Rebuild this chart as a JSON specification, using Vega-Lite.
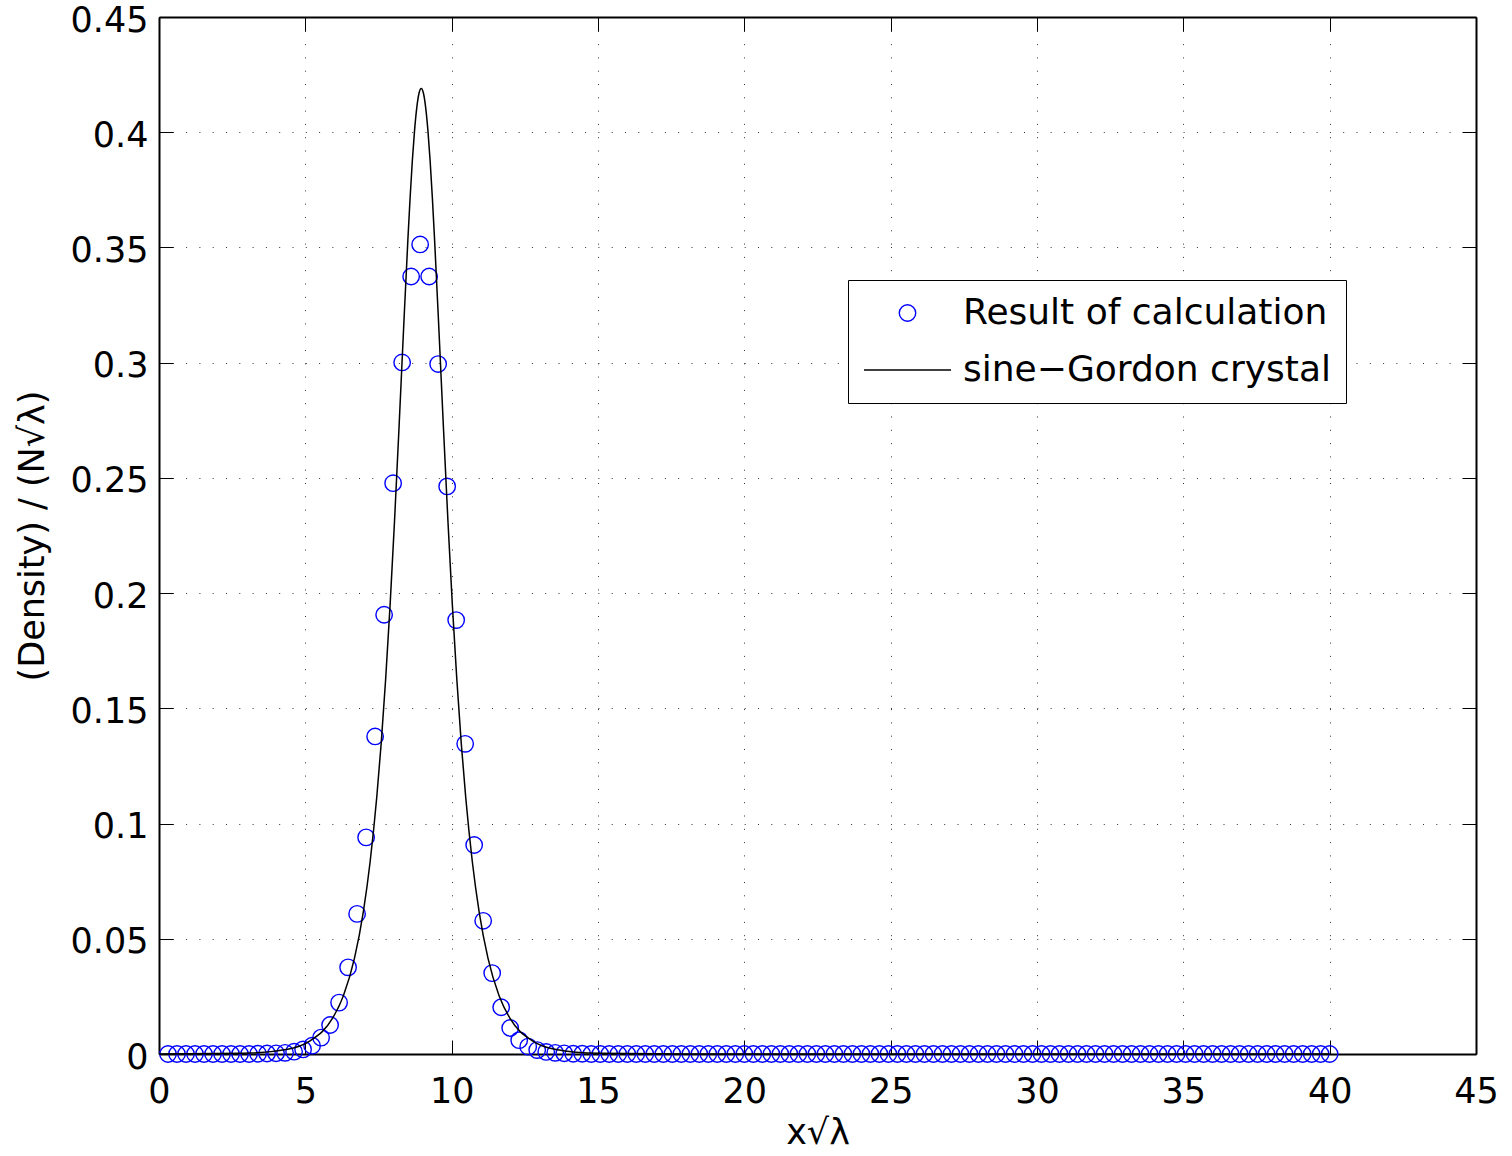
{
  "$schema": "https://vega.github.io/schema/vega-lite/v6.json",
  "width": 1317,
  "height": 1037,
  "autosize": {"type": "none"},
  "padding": {"left": 159, "top": 17, "right": 36, "bottom": 102},
  "background": "white",
  "config": {
    "view": {"stroke": null},
    "font": "DejaVu Sans",
    "axis": {
      "labelFont": "DejaVu Sans",
      "labelFontSize": 35,
      "labelColor": "black",
      "labelFlush": false,
      "labelOverlap": false,
      "labelBound": false,
      "titleFont": "DejaVu Sans",
      "titleFontSize": 35,
      "titleFontWeight": "normal",
      "titleColor": "black",
      "domainColor": "black",
      "domainWidth": 2,
      "tickColor": "black",
      "tickWidth": 1,
      "tickSize": -14,
      "gridColor": "#333333",
      "gridWidth": 1,
      "gridDash": [1, 12.3]
    }
  },
  "datasets": {
    "calc": [
      {"x": 0.3077, "y": 0, "series": "Result of calculation"},
      {"x": 0.6154, "y": 0, "series": "Result of calculation"},
      {"x": 0.9231, "y": 0, "series": "Result of calculation"},
      {"x": 1.2308, "y": 0, "series": "Result of calculation"},
      {"x": 1.5385, "y": 0, "series": "Result of calculation"},
      {"x": 1.8462, "y": 0, "series": "Result of calculation"},
      {"x": 2.1538, "y": 0, "series": "Result of calculation"},
      {"x": 2.4615, "y": 0, "series": "Result of calculation"},
      {"x": 2.7692, "y": 0, "series": "Result of calculation"},
      {"x": 3.0769, "y": 0, "series": "Result of calculation"},
      {"x": 3.3846, "y": 0.0001, "series": "Result of calculation"},
      {"x": 3.6923, "y": 0.0002, "series": "Result of calculation"},
      {"x": 4.0, "y": 0.0003, "series": "Result of calculation"},
      {"x": 4.3077, "y": 0.0005, "series": "Result of calculation"},
      {"x": 4.6154, "y": 0.001, "series": "Result of calculation"},
      {"x": 4.9231, "y": 0.002, "series": "Result of calculation"},
      {"x": 5.2308, "y": 0.0036, "series": "Result of calculation"},
      {"x": 5.5385, "y": 0.0071, "series": "Result of calculation"},
      {"x": 5.8462, "y": 0.0126, "series": "Result of calculation"},
      {"x": 6.1538, "y": 0.0223, "series": "Result of calculation"},
      {"x": 6.4615, "y": 0.0376, "series": "Result of calculation"},
      {"x": 6.7692, "y": 0.0608, "series": "Result of calculation"},
      {"x": 7.0769, "y": 0.094, "series": "Result of calculation"},
      {"x": 7.3846, "y": 0.1378, "series": "Result of calculation"},
      {"x": 7.6923, "y": 0.1906, "series": "Result of calculation"},
      {"x": 8.0, "y": 0.2477, "series": "Result of calculation"},
      {"x": 8.3077, "y": 0.3001, "series": "Result of calculation"},
      {"x": 8.6154, "y": 0.3374, "series": "Result of calculation"},
      {"x": 8.9231, "y": 0.3513, "series": "Result of calculation"},
      {"x": 9.2308, "y": 0.3374, "series": "Result of calculation"},
      {"x": 9.5385, "y": 0.2994, "series": "Result of calculation"},
      {"x": 9.8462, "y": 0.2463, "series": "Result of calculation"},
      {"x": 10.1538, "y": 0.1883, "series": "Result of calculation"},
      {"x": 10.4615, "y": 0.1346, "series": "Result of calculation"},
      {"x": 10.7692, "y": 0.0907, "series": "Result of calculation"},
      {"x": 11.0769, "y": 0.0578, "series": "Result of calculation"},
      {"x": 11.3846, "y": 0.0351, "series": "Result of calculation"},
      {"x": 11.6923, "y": 0.0203, "series": "Result of calculation"},
      {"x": 12.0, "y": 0.0113, "series": "Result of calculation"},
      {"x": 12.3077, "y": 0.006, "series": "Result of calculation"},
      {"x": 12.6154, "y": 0.0032, "series": "Result of calculation"},
      {"x": 12.9231, "y": 0.0017, "series": "Result of calculation"},
      {"x": 13.2308, "y": 0.0009, "series": "Result of calculation"},
      {"x": 13.5385, "y": 0.0005, "series": "Result of calculation"},
      {"x": 13.8462, "y": 0.0003, "series": "Result of calculation"},
      {"x": 14.1538, "y": 0.0001, "series": "Result of calculation"},
      {"x": 14.4615, "y": 0.0001, "series": "Result of calculation"},
      {"x": 14.7692, "y": 0, "series": "Result of calculation"},
      {"x": 15.0769, "y": 0, "series": "Result of calculation"},
      {"x": 15.3846, "y": 0, "series": "Result of calculation"},
      {"x": 15.6923, "y": 0, "series": "Result of calculation"},
      {"x": 16.0, "y": 0, "series": "Result of calculation"},
      {"x": 16.3077, "y": 0, "series": "Result of calculation"},
      {"x": 16.6154, "y": 0, "series": "Result of calculation"},
      {"x": 16.9231, "y": 0, "series": "Result of calculation"},
      {"x": 17.2308, "y": 0, "series": "Result of calculation"},
      {"x": 17.5385, "y": 0, "series": "Result of calculation"},
      {"x": 17.8462, "y": 0, "series": "Result of calculation"},
      {"x": 18.1538, "y": 0, "series": "Result of calculation"},
      {"x": 18.4615, "y": 0, "series": "Result of calculation"},
      {"x": 18.7692, "y": 0, "series": "Result of calculation"},
      {"x": 19.0769, "y": 0, "series": "Result of calculation"},
      {"x": 19.3846, "y": 0, "series": "Result of calculation"},
      {"x": 19.6923, "y": 0, "series": "Result of calculation"},
      {"x": 20.0, "y": 0, "series": "Result of calculation"},
      {"x": 20.3077, "y": 0, "series": "Result of calculation"},
      {"x": 20.6154, "y": 0, "series": "Result of calculation"},
      {"x": 20.9231, "y": 0, "series": "Result of calculation"},
      {"x": 21.2308, "y": 0, "series": "Result of calculation"},
      {"x": 21.5385, "y": 0, "series": "Result of calculation"},
      {"x": 21.8462, "y": 0, "series": "Result of calculation"},
      {"x": 22.1538, "y": 0, "series": "Result of calculation"},
      {"x": 22.4615, "y": 0, "series": "Result of calculation"},
      {"x": 22.7692, "y": 0, "series": "Result of calculation"},
      {"x": 23.0769, "y": 0, "series": "Result of calculation"},
      {"x": 23.3846, "y": 0, "series": "Result of calculation"},
      {"x": 23.6923, "y": 0, "series": "Result of calculation"},
      {"x": 24.0, "y": 0, "series": "Result of calculation"},
      {"x": 24.3077, "y": 0, "series": "Result of calculation"},
      {"x": 24.6154, "y": 0, "series": "Result of calculation"},
      {"x": 24.9231, "y": 0, "series": "Result of calculation"},
      {"x": 25.2308, "y": 0, "series": "Result of calculation"},
      {"x": 25.5385, "y": 0, "series": "Result of calculation"},
      {"x": 25.8462, "y": 0, "series": "Result of calculation"},
      {"x": 26.1538, "y": 0, "series": "Result of calculation"},
      {"x": 26.4615, "y": 0, "series": "Result of calculation"},
      {"x": 26.7692, "y": 0, "series": "Result of calculation"},
      {"x": 27.0769, "y": 0, "series": "Result of calculation"},
      {"x": 27.3846, "y": 0, "series": "Result of calculation"},
      {"x": 27.6923, "y": 0, "series": "Result of calculation"},
      {"x": 28.0, "y": 0, "series": "Result of calculation"},
      {"x": 28.3077, "y": 0, "series": "Result of calculation"},
      {"x": 28.6154, "y": 0, "series": "Result of calculation"},
      {"x": 28.9231, "y": 0, "series": "Result of calculation"},
      {"x": 29.2308, "y": 0, "series": "Result of calculation"},
      {"x": 29.5385, "y": 0, "series": "Result of calculation"},
      {"x": 29.8462, "y": 0, "series": "Result of calculation"},
      {"x": 30.1538, "y": 0, "series": "Result of calculation"},
      {"x": 30.4615, "y": 0, "series": "Result of calculation"},
      {"x": 30.7692, "y": 0, "series": "Result of calculation"},
      {"x": 31.0769, "y": 0, "series": "Result of calculation"},
      {"x": 31.3846, "y": 0, "series": "Result of calculation"},
      {"x": 31.6923, "y": 0, "series": "Result of calculation"},
      {"x": 32.0, "y": 0, "series": "Result of calculation"},
      {"x": 32.3077, "y": 0, "series": "Result of calculation"},
      {"x": 32.6154, "y": 0, "series": "Result of calculation"},
      {"x": 32.9231, "y": 0, "series": "Result of calculation"},
      {"x": 33.2308, "y": 0, "series": "Result of calculation"},
      {"x": 33.5385, "y": 0, "series": "Result of calculation"},
      {"x": 33.8462, "y": 0, "series": "Result of calculation"},
      {"x": 34.1538, "y": 0, "series": "Result of calculation"},
      {"x": 34.4615, "y": 0, "series": "Result of calculation"},
      {"x": 34.7692, "y": 0, "series": "Result of calculation"},
      {"x": 35.0769, "y": 0, "series": "Result of calculation"},
      {"x": 35.3846, "y": 0, "series": "Result of calculation"},
      {"x": 35.6923, "y": 0, "series": "Result of calculation"},
      {"x": 36.0, "y": 0, "series": "Result of calculation"},
      {"x": 36.3077, "y": 0, "series": "Result of calculation"},
      {"x": 36.6154, "y": 0, "series": "Result of calculation"},
      {"x": 36.9231, "y": 0, "series": "Result of calculation"},
      {"x": 37.2308, "y": 0, "series": "Result of calculation"},
      {"x": 37.5385, "y": 0, "series": "Result of calculation"},
      {"x": 37.8462, "y": 0, "series": "Result of calculation"},
      {"x": 38.1538, "y": 0, "series": "Result of calculation"},
      {"x": 38.4615, "y": 0, "series": "Result of calculation"},
      {"x": 38.7692, "y": 0, "series": "Result of calculation"},
      {"x": 39.0769, "y": 0, "series": "Result of calculation"},
      {"x": 39.3846, "y": 0, "series": "Result of calculation"},
      {"x": 39.6923, "y": 0, "series": "Result of calculation"},
      {"x": 40.0, "y": 0, "series": "Result of calculation"}
    ],
    "crystal": [
      {"x": 0, "y": 0},
      {"x": 2.88, "y": 0.0003},
      {"x": 4.4, "y": 0.0021},
      {"x": 5.16, "y": 0.0057},
      {"x": 5.92, "y": 0.0153},
      {"x": 6.3, "y": 0.0253},
      {"x": 6.68, "y": 0.0416},
      {"x": 6.984, "y": 0.0619},
      {"x": 7.212, "y": 0.0832},
      {"x": 7.44, "y": 0.1114},
      {"x": 7.592, "y": 0.1348},
      {"x": 7.744, "y": 0.1626},
      {"x": 7.896, "y": 0.1948},
      {"x": 8.048, "y": 0.2314},
      {"x": 8.2, "y": 0.2715},
      {"x": 8.352, "y": 0.3133},
      {"x": 8.504, "y": 0.3534},
      {"x": 8.58, "y": 0.3716},
      {"x": 8.656, "y": 0.3876},
      {"x": 8.732, "y": 0.4008},
      {"x": 8.808, "y": 0.4107},
      {"x": 8.884, "y": 0.4169},
      {"x": 8.96, "y": 0.419},
      {"x": 9.036, "y": 0.4169},
      {"x": 9.112, "y": 0.4107},
      {"x": 9.188, "y": 0.4008},
      {"x": 9.264, "y": 0.3876},
      {"x": 9.34, "y": 0.3716},
      {"x": 9.416, "y": 0.3534},
      {"x": 9.568, "y": 0.3133},
      {"x": 9.72, "y": 0.2715},
      {"x": 9.872, "y": 0.2314},
      {"x": 10.024, "y": 0.1948},
      {"x": 10.176, "y": 0.1626},
      {"x": 10.328, "y": 0.1348},
      {"x": 10.48, "y": 0.1114},
      {"x": 10.708, "y": 0.0832},
      {"x": 10.936, "y": 0.0619},
      {"x": 11.24, "y": 0.0416},
      {"x": 11.62, "y": 0.0253},
      {"x": 12.0, "y": 0.0153},
      {"x": 12.76, "y": 0.0057},
      {"x": 13.52, "y": 0.0021},
      {"x": 15.04, "y": 0.0003},
      {"x": 18, "y": 0},
      {"x": 40, "y": 0}
    ]
  },
  "layer": [
    {
      "data": {"name": "calc"},
      "mark": {"type": "point", "filled": false, "strokeWidth": 1.4, "opacity": 1},
      "encoding": {
        "x": {
          "field": "x",
          "type": "quantitative",
          "scale": {"domain": [0, 45], "nice": false, "zero": false},
          "axis": {
            "orient": "bottom",
            "values": [0, 5, 10, 15, 20, 25, 30, 35, 40, 45],
            "format": "~g",
            "grid": true,
            "labelPadding": 34,
            "title": "x√λ",
            "titlePadding": 6
          }
        },
        "y": {
          "field": "y",
          "type": "quantitative",
          "scale": {"domain": [0, 0.45], "nice": false, "zero": false},
          "axis": {
            "orient": "left",
            "values": [0, 0.05, 0.1, 0.15, 0.2, 0.25, 0.3, 0.35, 0.4, 0.45],
            "format": "~g",
            "grid": true,
            "labelPadding": 25,
            "labelOffset": 3,
            "title": "(Density) / (N√λ)",
            "titlePadding": 20
          }
        },
        "color": {
          "field": "series",
          "type": "nominal",
          "scale": {
            "domain": ["Result of calculation", "sine−Gordon crystal"],
            "range": ["#0000ff", "#000000"]
          },
          "legend": {
            "title": null,
            "orient": "none",
            "legendX": 689,
            "legendY": 263,
            "labelFont": "DejaVu Sans",
            "labelFontSize": 36,
            "labelColor": "black",
            "labelLimit": 1000,
            "labelOffset": 11,
            "clipHeight": 36,
            "rowPadding": 21,
            "padding": 15,
            "strokeColor": "black",
            "fillColor": "white",
            "symbolStrokeWidth": 1.4,
            "encode": {"legend": {"update": {"strokeWidth": {"value": 1.5}}}}
          }
        },
        "shape": {
          "field": "series",
          "type": "nominal",
          "scale": {
            "domain": ["Result of calculation", "sine−Gordon crystal"],
            "range": ["circle", "M-1,0H1"]
          }
        },
        "size": {
          "field": "series",
          "type": "nominal",
          "scale": {
            "type": "ordinal",
            "domain": ["Result of calculation", "sine−Gordon crystal"],
            "range": [270, 7569]
          }
        }
      }
    },
    {
      "data": {"name": "crystal"},
      "mark": {"type": "line", "color": "black", "strokeWidth": 1.5, "interpolate": "monotone"},
      "encoding": {
        "x": {
          "field": "x",
          "type": "quantitative",
          "axis": {
            "orient": "top",
            "values": [0, 5, 10, 15, 20, 25, 30, 35, 40, 45],
            "labels": false,
            "grid": false,
            "title": null
          }
        },
        "y": {
          "field": "y",
          "type": "quantitative",
          "axis": {
            "orient": "right",
            "values": [0, 0.05, 0.1, 0.15, 0.2, 0.25, 0.3, 0.35, 0.4, 0.45],
            "labels": false,
            "grid": false,
            "title": null
          }
        }
      }
    }
  ],
  "resolve": {"axis": {"x": "independent", "y": "independent"}}
}
